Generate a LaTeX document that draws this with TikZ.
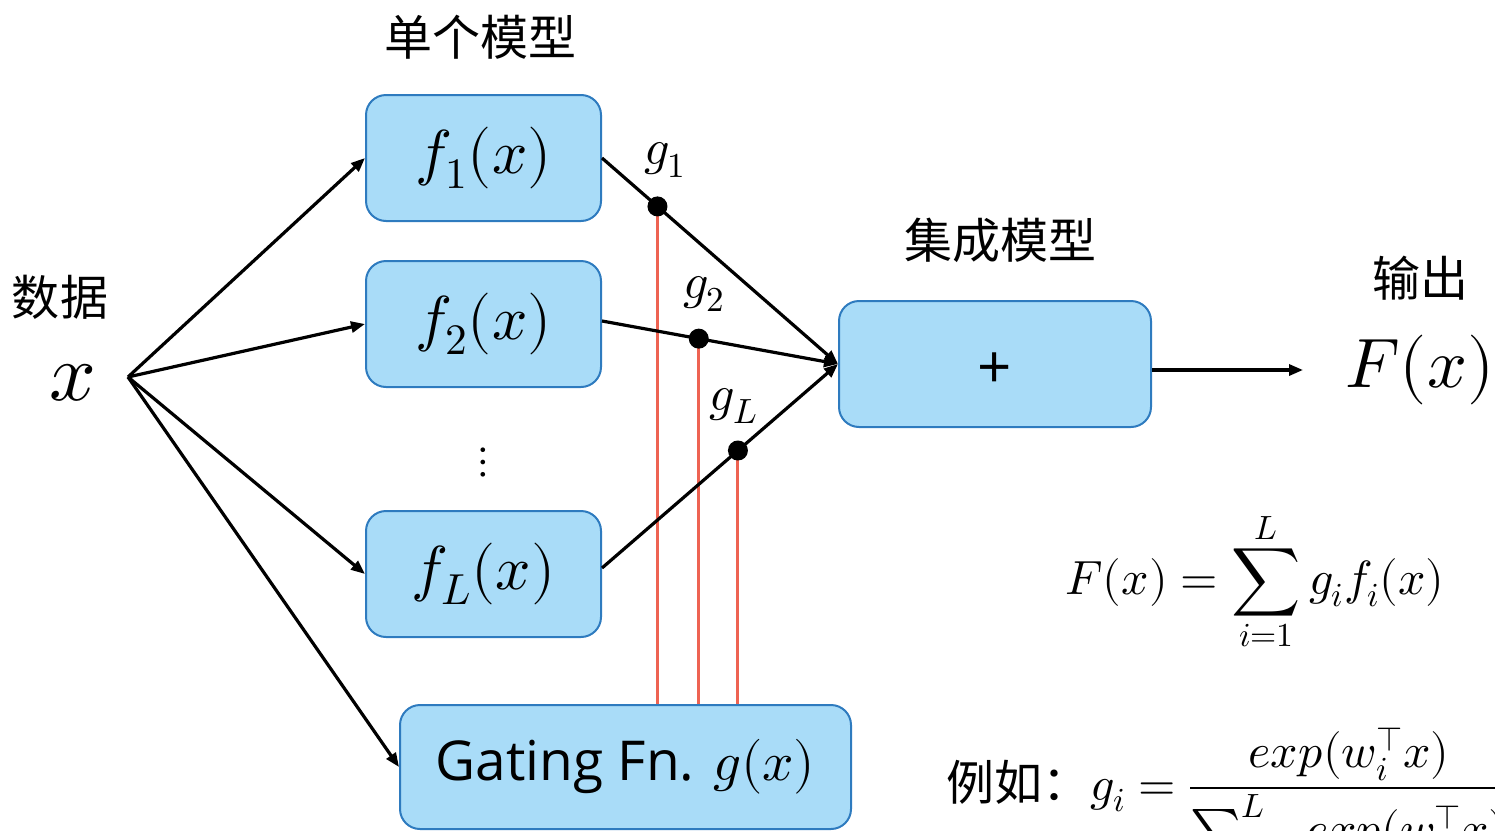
\documentclass[tikz,border=0pt]{standalone}
\usepackage{fontspec}
\usepackage{unicode-math}
\setmathfont{Latin Modern Math}
\setsansfont{Open Sans}
\newfontfamily\cjk{Noto Sans CJK SC}
\usetikzlibrary{arrows.meta,calc}
\definecolor{boxfill}{HTML}{A9DCF8}
\definecolor{boxline}{HTML}{2E7BBF}
\definecolor{gatered}{HTML}{EE6352}
\tikzset{
  fbox/.style={draw=boxline,fill=boxfill,line width=2pt,rounded corners=20pt,minimum width=235pt,minimum height=126pt,inner sep=0pt},
  conn/.style={line width=3.2pt,-{Triangle[length=14pt,width=11pt]}},
  redline/.style={draw=gatered,line width=3pt},
  gdot/.style={circle,fill=black,inner sep=0pt,minimum size=20pt},
  cjklabel/.style={font=\fontsize{48}{56}\selectfont\cjk,inner sep=0pt},
}
\begin{document}
\begin{tikzpicture}[x=1pt,y=-1pt]
\useasboundingbox (0,0) rectangle (1495,830);
\clip (0,0) rectangle (1495,830);
% labels
\node[cjklabel] (lsingle) at (480,37) {单个模型};
\node[cjklabel] (ldata) at (60,297) {数据};
\node[cjklabel] (lens) at (1000,240) {集成模型};
\node[cjklabel] (lout) at (1420,278) {输出};
% source x
\node[inner sep=0pt] (xin) at (73,383) {\fontsize{82}{90}\selectfont$x$};
\coordinate (src) at (128,377);
% boxes
\node[fbox] (f1) at (483.5,158) {\fontsize{62}{70}\selectfont$f_1(x)$};
\node[fbox] (f2) at (483.5,324) {\fontsize{62}{70}\selectfont$f_2(x)$};
\node[fbox] (fL) at (483.5,574) {\fontsize{62}{70}\selectfont$f_L(x)$};
\node[inner sep=0pt] (vdots) at (483,462) {\fontsize{44}{52}\selectfont$\vdots$};
\node[fbox,minimum width=451pt,minimum height=124pt] (gate) at (625.5,767) {\fontsize{55}{64}\selectfont\sffamily Gating Fn. $g(x)$};
\node[fbox,minimum width=312pt,minimum height=126pt] (plus) at (995,364) {};
\node[inner sep=0pt,font=\fontsize{60}{64}\selectfont\sffamily] (plussign) at (995,371) {+};
% output
\node[inner sep=0pt] (Fx) at (1420,370) {\fontsize{70}{80}\selectfont$F(x)$};
% arrows from x
\draw[conn] (src) -- (f1.west);
\draw[conn] (src) -- (f2.west);
\draw[conn] (src) -- (fL.west);
\draw[conn] (src) -- (gate.west);
% to plus
\coordinate (pin) at (plus.west);
\coordinate (f1o) at ($(f1.east)+(0,0)$);
\coordinate (f2o) at ($(f2.east)+(0,-3)$);
\coordinate (fLo) at ($(fL.east)+(0,-6)$);
\path (f1o) -- (pin) coordinate[pos=0.235] (d1);
\path (f2o) -- (pin) coordinate[pos=0.41] (d2);
\path (fLo) -- (pin) coordinate[pos=0.576] (dL);
% red lines
\draw[redline] (d1) -- (d1 |- gate.north);
\draw[redline] (d2) -- (d2 |- gate.north);
\draw[redline] (dL) -- (dL |- gate.north);
\draw[conn] (f1o) -- (pin);
\draw[conn] (f2o) -- (pin);
\draw[conn] (fLo) -- (pin);
\node[gdot] (g1dot) at (d1) {};
\node[gdot] (g2dot) at (d2) {};
\node[gdot] (gLdot) at (dL) {};
\node[inner sep=0pt] (g1) at (665,160) {\fontsize{50}{58}\selectfont$g_1$};
\node[inner sep=0pt] (g2) at (704,294) {\fontsize{50}{58}\selectfont$g_2$};
\node[inner sep=0pt] (gL) at (734,406) {\fontsize{50}{58}\selectfont$g_L$};
% output arrow
\draw[conn] (plus.east |- 0,370) -- (1303,370) coordinate (outend);
% formulas
\node[inner sep=0pt] (sumf) at (1255,582) {\fontsize{48}{56}\selectfont$\displaystyle F(x)=\sum_{i=1}^{L} g_i f_i(x)$};
\node[anchor=base west,inner sep=0pt] (example) at (946,800) {\fontsize{48}{56}\selectfont{\cjk 例如：}$\displaystyle g_i=\frac{exp(w_i^{\top}x)}{\sum_{j=1}^{L} exp(w_j^{\top}x)}$};
\end{tikzpicture}
\end{document}
